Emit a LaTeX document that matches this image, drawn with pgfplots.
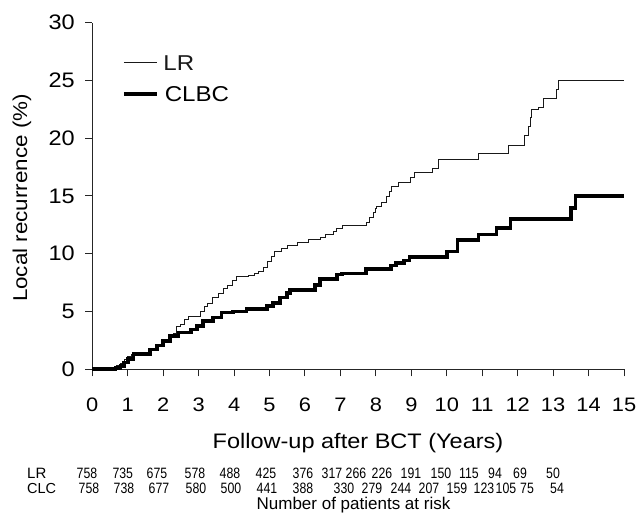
\documentclass[border=0pt]{standalone}
\usepackage{fontspec}
\setmainfont{Liberation Sans}
\newfontfamily\widefont[FakeStretch=1.12]{Liberation Sans}
\newfontfamily\narrowfont[FakeStretch=0.82]{Liberation Sans}
\usepackage{pgfplots}
\pgfplotsset{compat=1.18}

% time (years), cumulative incidence (%)
\pgfplotstableread{
t v
0 0
0.68 0.3
0.8 0.5
0.9 0.85
1.0 1.1
1.1 1.3
1.4 1.4
1.6 1.7
1.8 2.1
2.0 2.5
2.2 2.8
2.3 3.1
2.38 3.7
2.48 3.9
2.6 4.3
2.72 4.55
3.05 5.05
3.15 5.4
3.25 5.7
3.4 6.2
3.55 6.6
3.7 7.0
3.8 7.3
3.95 7.7
4.07 8.0
4.4 8.15
4.57 8.3
4.7 8.5
4.83 8.8
4.95 9.3
5.05 9.8
5.15 10.2
5.35 10.5
5.5 10.7
5.8 11.0
6.1 11.2
6.43 11.4
6.57 11.67
6.8 11.9
6.9 12.2
7.05 12.45
7.72 12.7
7.81 13.1
7.92 13.55
7.98 13.9
8.03 14.1
8.17 14.4
8.3 15.0
8.37 15.4
8.45 15.8
8.63 16.2
8.97 16.6
9.1 17.0
9.61 17.4
9.76 18.2
10.88 18.7
11.73 19.4
12.2 20.2
12.3 21.0
12.35 21.8
12.4 22.5
12.6 22.7
12.72 23.4
13.1 24.2
13.14 25.0
15 25.0
}\lrdata

\pgfplotstableread{
t v
0 0
0.65 0.1
0.8 0.3
0.9 0.6
1.0 0.9
1.16 1.3
1.63 1.7
1.82 2.05
2.0 2.45
2.2 2.9
2.43 3.2
2.78 3.45
2.95 3.75
3.13 4.2
3.41 4.5
3.64 4.9
3.97 5.0
4.35 5.2
4.93 5.5
5.1 5.75
5.3 6.2
5.49 6.6
5.58 6.85
6.29 7.3
6.43 7.8
6.9 8.2
7.05 8.3
7.72 8.7
8.42 9.0
8.56 9.2
8.8 9.4
8.95 9.74
10.0 10.2
10.3 11.2
10.9 11.67
11.4 12.25
11.8 13.0
13.5 13.95
13.63 15.0
15 15.0
}\clbcdata

\begin{document}
\begin{tikzpicture}
\path[use as bounding box] (0,0) rectangle (639pt,518pt);
\begin{axis}[
  at={(92.3pt,148.7pt)}, anchor=south west,
  scale only axis, width=531.7pt, height=346.6pt,
  xmin=0, xmax=15, ymin=0, ymax=30,
  axis x line=bottom, axis y line=left,
  axis line style={-, line width=1pt, black!85},
  xtick={0,...,15}, ytick={0,5,...,30},
  tick align=outside, major tick length=7pt,
  tick style={line width=1pt, black!85},
  /pgf/number format/assume math mode=true,
  yticklabel style={font=\widefont\fontsize{21}{25}\selectfont, xshift=-7pt},
  xticklabel style={font=\widefont\fontsize{19.5}{23}\selectfont, yshift=-18pt},
  clip=false,
]
\addplot[const plot, line width=0.9pt, black!90] table[x=t, y=v] {\lrdata};
\addplot[const plot, line width=3.6pt, black] table[x=t, y=v] {\clbcdata};

% legend
\draw[line width=0.9pt, black!90] (axis cs:0.894,26.54) -- ++(33pt,0)
  node[anchor=west, inner sep=0pt, xshift=6pt, font=\widefont\fontsize{21.5}{25}\selectfont]{LR};
\draw[line width=3.6pt, black] (axis cs:0.894,23.83) -- ++(33pt,0)
  node[anchor=west, inner sep=0pt, xshift=6pt, font=\widefont\fontsize{21.5}{25}\selectfont]{CLBC};
\end{axis}

% axis titles
\node[anchor=base, inner sep=0pt, font=\widefont\fontsize{21}{25}\selectfont]
  at (358pt,{518pt-448.3pt}) {Follow-up after BCT (Years)};
\node[rotate=90, inner sep=0pt, font=\widefont\fontsize{20}{24}\selectfont]
  at (22pt,{518pt-198pt}) {Local recurrence (\%)};

% number at risk table
\node[anchor=base west, inner sep=0pt, font=\fontsize{15}{18}\selectfont] at (27pt,{518pt-479pt}) {LR};
\node[anchor=base west, inner sep=0pt, font=\fontsize{14.5}{18}\selectfont] at (27pt,{518pt-494pt}) {CLC};
\foreach \x/\n in {87/758,122.8/735,157/675,195/578,230/488,266/425,303/376,332/317,356/266,382/226,411/191,441/150,469/115,495/94,520/69,553/50}
  \node[anchor=base, inner sep=0pt, font=\narrowfont\fontsize{15}{18}\selectfont] at (\x pt,{518pt-479pt}) {\n};
\foreach \x/\n in {89/758,124/738,159/677,196/580,231/500,267/441,303/388,344/330,372/279,401/244,429/207,457/159,484/123,506/105,527/75,557/54}
  \node[anchor=base, inner sep=0pt, font=\narrowfont\fontsize{15}{18}\selectfont] at (\x pt,{518pt-494pt}) {\n};
\node[anchor=base, inner sep=0pt, font=\fontsize{17}{20}\selectfont]
  at (353.5pt,{518pt-509.5pt}) {Number of patients at risk};
\end{tikzpicture}
\end{document}
